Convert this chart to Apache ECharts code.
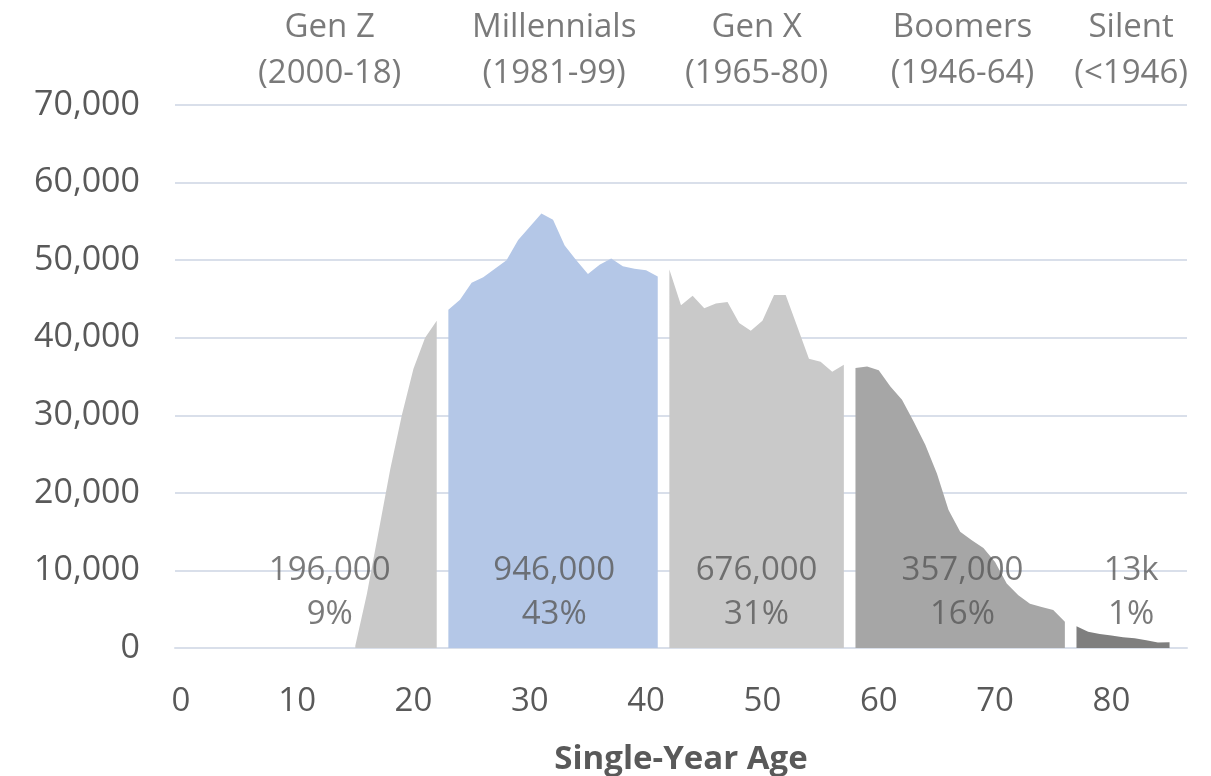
<!DOCTYPE html>
<html>
<head>
<meta charset="utf-8">
<script src="https://cdn.jsdelivr.net/npm/echarts@6/dist/echarts.min.js"></script>
<style>
  html, body { margin: 0; padding: 0; background: #fff; }
  #chart { width: 1211px; height: 776px; }
</style>
</head>
<body>
<div id="chart"></div>
<script>
  // ages on the category axis (0..86)
  const ages = [];
  for (let a = 0; a <= 86; a++) ages.push(String(a));

  // people per single-year age, each generation starts at its own age
  const genZStart = 15;
  const genZ = [300, 7000, 15000, 23000, 30000, 36000, 40000, 42200];
  const millStart = 23;
  const millennials = [43600, 44900, 47100, 47800, 48900, 50000, 52600, 54300, 56000, 55200,
    51900, 50000, 48200, 49400, 50200, 49200, 48900, 48700, 47900];
  const genXStart = 42;
  const genX = [48800, 44200, 45400, 43800, 44400, 44600, 41900, 40900, 42200, 45500,
    45500, 41400, 37300, 36900, 35600, 36500];
  const boomStart = 58;
  const boomers = [36100, 36300, 35800, 33700, 32000, 29200, 26200, 22500, 17800, 15000,
    13900, 12900, 11100, 8300, 6800, 5700, 5300, 4900, 3400];
  const silentStart = 77;
  const silent = [2800, 2100, 1800, 1600, 1400, 1250, 1000, 700, 750];

  // group texts
  const groupNames = ['Gen Z', 'Millennials', 'Gen X', 'Boomers', 'Silent'];
  const groupYears = ['(2000-18)', '(1981-99)', '(1965-80)', '(1946-64)', '(<1946)'];
  const groupTotals = ['196,000', '946,000', '676,000', '357,000', '13k'];
  const groupShares = ['9%', '43%', '31%', '16%', '1%'];

  // layout of the text blocks (age units / y units)
  const labelAt = [12.8, 32.1, 49.5, 67.2, 81.7];
  const titleY = 77000;
  const totalY = 7100;

  const textColor = '#595959';
  const gridColor = '#d9dfea';
  const font = '"Open Sans", sans-serif';

  // pad a generation to the full age range
  const pad = (start, vals) => ages.map((_, i) => (i >= start && i < start + vals.length ? vals[i - start] : null));

  const areaSeries = (name, start, vals, color) => ({
    name: name,
    type: 'line',
    data: pad(start, vals),
    symbol: 'none',
    silent: true,
    lineStyle: { width: 0 },
    areaStyle: { color: color, opacity: 1 },
    z: 2,
  });

  const chart = echarts.init(document.getElementById('chart'));
  const option = {
    animation: false,
    grid: { left: 175, right: 24, top: 105, bottom: 128, outerBoundsMode: 'none', containLabel: false },
    xAxis: [
      {
        type: 'category',
        data: ages,
        boundaryGap: true,
        name: 'Single-Year Age',
        nameLocation: 'middle',
        nameGap: 95,
        nameTextStyle: { color: textColor, fontSize: 33, fontWeight: 'bold', fontFamily: font },
        axisLine: { show: true, lineStyle: { color: gridColor, width: 2 } },
        axisTick: { show: false },
        axisLabel: { interval: 9, color: textColor, fontSize: 33, fontFamily: font, margin: 37 },
      },
      {
        // hidden helper axis for the text blocks
        type: 'value',
        min: -0.5,
        max: 86.5,
        show: false,
      },
    ],
    yAxis: {
      type: 'value',
      min: 0,
      max: 70000,
      interval: 10000,
      axisLine: { show: false },
      axisTick: { show: false },
      splitLine: { lineStyle: { color: gridColor, width: 2 } },
      axisLabel: {
        color: textColor,
        fontSize: 34,
        fontFamily: font,
        margin: 35,
        formatter: (v) => v.toLocaleString('en-US'),
      },
    },
    series: [
      areaSeries('Gen Z', genZStart, genZ, '#c9c9c9'),
      areaSeries('Millennials', millStart, millennials, '#b4c7e7'),
      areaSeries('Gen X', genXStart, genX, '#c9c9c9'),
      areaSeries('Boomers', boomStart, boomers, '#a6a6a6'),
      areaSeries('Silent', silentStart, silent, '#7f7f7f'),
      {
        type: 'scatter',
        xAxisIndex: 1,
        symbolSize: 0,
        silent: true,
        clip: false,
        z: 5,
        data: labelAt.map((x, i) => [x, titleY, i]),
        label: {
          show: true,
          position: 'inside',
          color: textColor,
          fontSize: 33,
          fontFamily: font,
          lineHeight: 46,
          formatter: (p) => groupNames[p.data[2]] + '\n' + groupYears[p.data[2]],
        },
      },
      {
        type: 'scatter',
        xAxisIndex: 1,
        symbolSize: 0,
        silent: true,
        clip: false,
        z: 5,
        data: labelAt.map((x, i) => [x, totalY, i]),
        label: {
          show: true,
          position: 'inside',
          color: textColor,
          fontSize: 33,
          fontFamily: font,
          lineHeight: 44,
          formatter: (p) => groupTotals[p.data[2]] + '\n' + groupShares[p.data[2]],
        },
      },
    ],
  };
  chart.setOption(option);
</script>
</body>
</html>
